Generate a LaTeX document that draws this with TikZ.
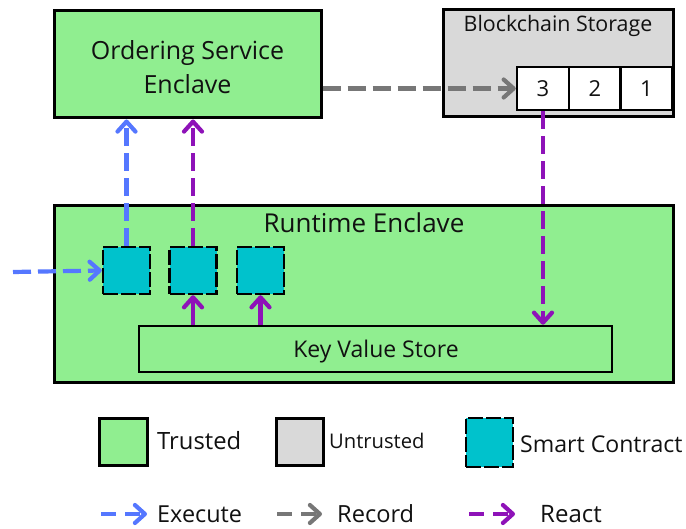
\documentclass[tikz,border=0pt]{standalone}
\usepackage{fontspec}
\setmainfont{Open Sans}
\usetikzlibrary{arrows.meta}
\definecolor{trustgreen}{HTML}{90EE90}
\definecolor{untrustgray}{HTML}{D9D9D9}
\definecolor{sccyan}{HTML}{00C2CC}
\definecolor{execblue}{HTML}{5577FF}
\definecolor{recgray}{HTML}{777777}
\definecolor{reactpurple}{HTML}{8E12B8}
\definecolor{txt}{HTML}{111111}
\begin{document}
\begin{tikzpicture}[x=1pt,y=-1pt,
  every node/.style={text=txt},
  trusted/.style={draw=black, fill=trustgreen, line width=3pt, inner sep=0pt},
  untrusted/.style={draw=black, fill=untrustgray, line width=3pt, inner sep=0pt},
  cell/.style={draw=black, fill=white, line width=2.5pt, inner sep=0pt, minimum width=52pt, minimum height=43pt, font=\fontsize{22}{26}\selectfont},
  contract/.style={draw=black, fill=sccyan, line width=2.5pt, dash pattern=on 15pt off 3pt, inner sep=0pt, minimum width=47pt, minimum height=47pt},
  flow/.style={line width=4.2pt, dash pattern=on 18pt off 7pt, -{Straight Barb[length=10pt,width=18pt,round]}},
  legflow/.style={line width=4.2pt, dash pattern=on 15pt off 9pt, -{Straight Barb[length=10pt,width=18pt,round]}},
  solidflow/.style={line width=4.2pt, -{Straight Barb[length=10pt,width=18pt,round]}},
  lbl/.style={inner sep=0pt, anchor=west}
]
\useasboundingbox (0,0) rectangle (686,529);

% top boxes
\node[trusted, minimum width=267pt, minimum height=107pt] (ord) at (187.5,64.5) {};
\node[inner sep=0pt, align=center, font=\fontsize{25}{34}\selectfont] (ordlbl) at (187.5,67) {Ordering Service\\Enclave};
\node[untrusted, minimum width=230pt, minimum height=107pt] (bc) at (558,63.5) {};
\node[inner sep=0pt, font=\fontsize{21.4}{26}\selectfont] (bclbl) at (558,26) {Blockchain Storage};
\node[cell] (c3) at (543,88.5) {3};
\node[cell] (c2) at (595,88.5) {2};
\node[cell] (c1) at (646.5,88.5) {1};

% runtime
\node[trusted, minimum width=619pt, minimum height=177pt] (rt) at (363.5,294.5) {};
\node[inner sep=0pt, font=\fontsize{26}{30}\selectfont] (rtlbl) at (364,223) {Runtime Enclave};
\node[trusted, line width=2.5pt, minimum width=473pt, minimum height=46pt] (kvs) at (375.5,349) {};
\node[inner sep=0pt, font=\fontsize{23}{28}\selectfont] (kvslbl) at (376,352) {Key Value Store};
\node[contract] (sc1) at (126.5,270.5) {};
\node[contract] (sc2) at (193,270.5) {};
\node[contract] (sc3) at (260.5,270.5) {};
\coordinate (in) at (13,272);

% connectors
\draw[flow, execblue] (in) -- (sc1.west);
\draw[flow, execblue] (sc1.north) -- (sc1.north |- ord.south);
\draw[flow, reactpurple] (sc2.north) -- (sc2.north |- ord.south);
\draw[flow, recgray] (c3.west -| ord.east) -- (c3.west);
\draw[flow, reactpurple] (c3.south) -- (c3.south |- kvs.north);
\draw[solidflow, reactpurple] (sc2.south |- kvs.north) -- (sc2.south);
\draw[solidflow, reactpurple] (sc3.south |- kvs.north) -- (sc3.south);

% legend
\node[trusted, minimum width=48pt, minimum height=46pt] (lt) at (123,442) {};
\node[lbl, font=\fontsize{23.8}{28}\selectfont] (ltt) at (157,441) {Trusted};
\node[untrusted, minimum width=47pt, minimum height=46pt] (lu) at (299.5,442) {};
\node[lbl, font=\fontsize{20.2}{24}\selectfont] (lut) at (329,441) {Untrusted};
\node[contract, minimum height=49pt] (lsc) at (489.5,442.5) {};
\node[lbl, font=\fontsize{23.1}{28}\selectfont] (lsct) at (520,444) {Smart Contract};

\coordinate (e0) at (101,514);
\coordinate (e1) at (147,514);
\coordinate (r0) at (277,514);
\coordinate (r1) at (322,514);
\coordinate (p0) at (469,514);
\coordinate (p1) at (515,514);
\draw[legflow, execblue] (e0) -- (e1);
\draw[legflow, recgray] (r0) -- (r1);
\draw[legflow, reactpurple] (p0) -- (p1);
\node[lbl, font=\fontsize{23.4}{28}\selectfont] (let) at (157,514) {Execute};
\node[lbl, font=\fontsize{23.6}{28}\selectfont] (lrt) at (337,514) {Record};
\node[lbl, font=\fontsize{24}{28}\selectfont] (lpt) at (540,514) {React};
\end{tikzpicture}
\end{document}
